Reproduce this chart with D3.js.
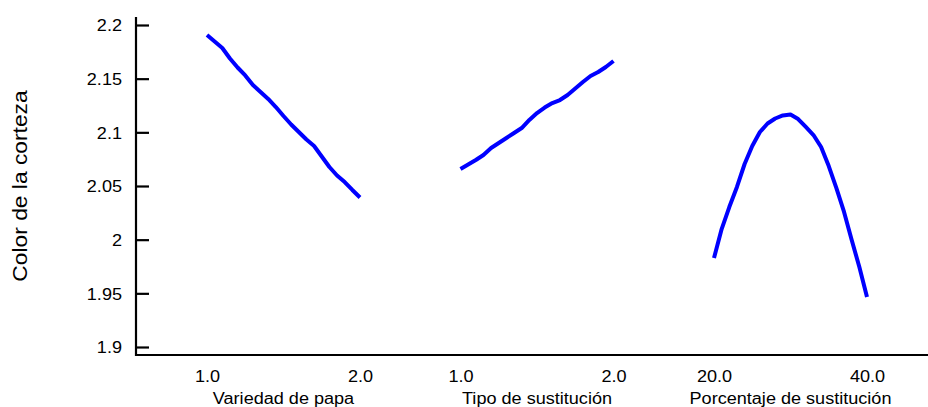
<!DOCTYPE html>
<html>
<head>
<meta charset="utf-8">
<script src="https://cdn.jsdelivr.net/npm/d3@7"></script>
<style>
  html, body { margin: 0; padding: 0; background: #fff; }
  svg { display: block; font-family: "Liberation Sans", Arial, sans-serif; }
</style>
</head>
<body>
<svg id="chart" width="928" height="407"></svg>
<script>
const yTicks = [1.9, 1.95, 2, 2.05, 2.1, 2.15, 2.2];
const yTickLabels = ["1.9", "1.95", "2", "2.05", "2.1", "2.15", "2.2"];
const yTitle = "Color de la corteza";

const factors = ["Variedad de papa", "Tipo de sustitución", "Porcentaje de sustitución"];
const factorDomains = [[1, 2], [1, 2], [20, 40]];
const factorTickLabels = [["1.0", "2.0"], ["1.0", "2.0"], ["20.0", "40.0"]];

const xVariedad = [1.0,1.05,1.1,1.15,1.2,1.25,1.3,1.35,1.4,1.45,1.5,1.55,1.6,1.65,1.7,1.75,1.8,1.85,1.9,1.95,2.0];
const yVariedad = [2.1907,2.1846,2.1786,2.1688,2.1604,2.1530,2.1441,2.1376,2.1311,2.1236,2.1152,2.1073,2.1003,2.0933,2.0873,2.0775,2.0677,2.0598,2.0537,2.0463,2.0393];

const xTipo = [1.0,1.05,1.1,1.15,1.2,1.25,1.3,1.35,1.4,1.45,1.5,1.55,1.6,1.65,1.7,1.75,1.8,1.85,1.9,1.95,2.0];
const yTipo = [2.0658,2.0700,2.0742,2.0789,2.0854,2.0901,2.0947,2.0994,2.1040,2.1115,2.1180,2.1231,2.1273,2.1301,2.1348,2.1408,2.1469,2.1525,2.1562,2.1609,2.1665];

const xPorcentaje = [20,21,22,23,24,25,26,27,28,29,30,31,32,33,34,35,36,37,38,39,40];
const yPorcentaje = [1.9829,2.0099,2.0304,2.0491,2.0705,2.0873,2.1003,2.1082,2.1129,2.1157,2.1166,2.1124,2.1050,2.0975,2.0863,2.0686,2.0481,2.0258,1.9997,1.9745,1.9466];

const seriesX = [xVariedad, xTipo, xPorcentaje];
const seriesY = [yVariedad, yTipo, yPorcentaje];

const svg = d3.select("#chart");
const axisX = 136, axisTop = 17, axisBottom = 355, rightEdge = 928;
const sx = 1.13; // horizontal stretch of the reference lettering

const y = d3.scaleLinear().domain([1.9, 2.2]).range([347, 25]);

// y axis line
svg.append("line").attr("x1", axisX).attr("x2", axisX).attr("y1", axisTop).attr("y2", axisBottom + 1)
  .attr("stroke", "#000").attr("stroke-width", 2.2);
// x axis line
svg.append("line").attr("x1", axisX - 1).attr("x2", rightEdge).attr("y1", axisBottom).attr("y2", axisBottom)
  .attr("stroke", "#000").attr("stroke-width", 2.2);

// y ticks (inward) and labels
const yAxis = d3.axisRight(y).tickValues(yTicks).tickSize(13)
  .tickFormat((d, i) => yTickLabels[i]);
const gy = svg.append("g").attr("transform", `translate(${axisX},0)`).call(yAxis);
gy.select(".domain").remove();
gy.selectAll(".tick line").attr("stroke", "#000").attr("stroke-width", 2.2);
gy.selectAll(".tick text").attr("x", -14 / sx).attr("dy", "0.36em").attr("text-anchor", "end")
  .attr("transform", `scale(${sx},1)`)
  .attr("font-size", 16).attr("fill", "#000").attr("font-family", "Liberation Sans, Arial, sans-serif");

// y title
svg.append("text").attr("transform", "translate(27,186) rotate(-90) scale(1.14,1)")
  .attr("text-anchor", "middle").attr("font-size", 20).attr("fill", "#000").text(yTitle);

// panels
const panelStart = 207, panelWidth = 153, panelStep = 253.5;
const line = d3.line().curve(d3.curveLinear);

factors.forEach((name, i) => {
  const x0 = panelStart + panelStep * i;
  const x = d3.scaleLinear().domain(factorDomains[i]).range([x0, x0 + panelWidth]);
  const xAxis = d3.axisBottom(x).tickValues(factorDomains[i]).tickSize(0)
    .tickFormat((d, k) => factorTickLabels[i][k]);
  const gx = svg.append("g").attr("transform", `translate(0,${axisBottom})`).call(xAxis);
  gx.select(".domain").remove();
  gx.selectAll(".tick text").attr("y", 27).attr("dy", 0)
    .attr("transform", `scale(${sx},1)`)
    .attr("font-size", 16).attr("fill", "#000").attr("font-family", "Liberation Sans, Arial, sans-serif");

  const cx = x0 + panelWidth / 2;
  svg.append("text").attr("transform", `translate(${cx},404) scale(${sx},1)`)
    .attr("text-anchor", "middle").attr("font-size", 16).attr("fill", "#000").text(name);

  const pts = seriesX[i].map((v, k) => [x(v), y(seriesY[i][k])]);
  svg.append("path").attr("d", line(pts)).attr("fill", "none")
    .attr("stroke", "#0000ff").attr("stroke-width", 4).attr("stroke-linejoin", "round");
});
</script>
</body>
</html>
